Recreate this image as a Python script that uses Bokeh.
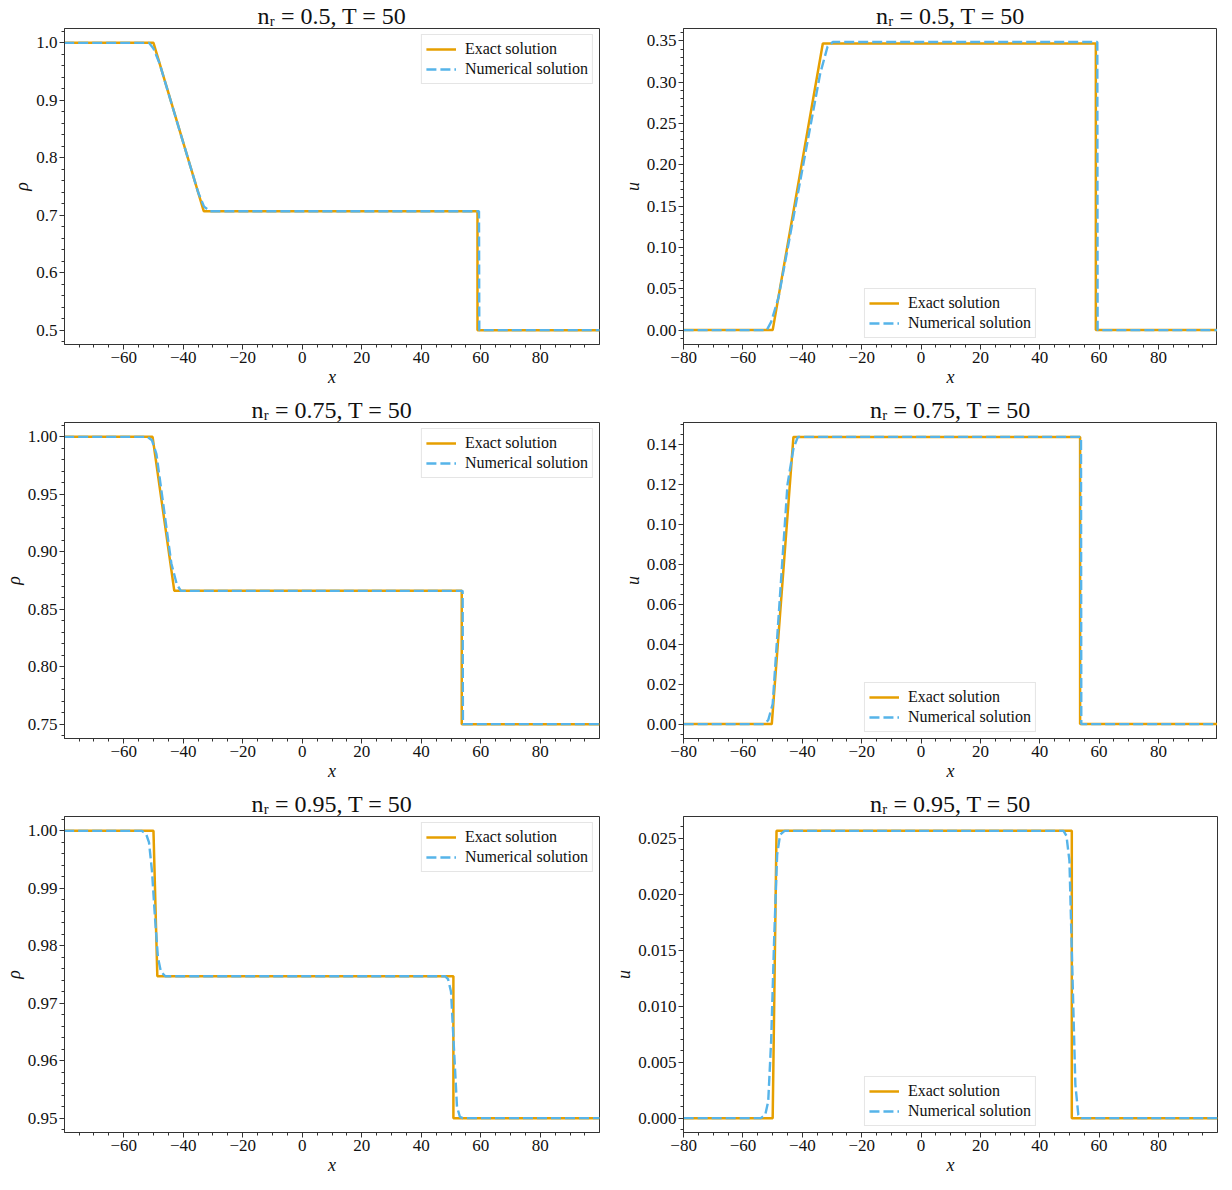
from bokeh.plotting import figure
from bokeh.layouts import gridplot
from bokeh.models import Range1d, FixedTicker, CustomJSTickFormatter
from bokeh.embed import file_html
from bokeh.resources import INLINE

ORANGE = "#E69F00"
BLUE = "#56B4E9"
FONT = "Liberation Serif"
SPINE = "#333333"

# ---------------- data ----------------
titles = ["nᵣ = 0.5, T = 50", "nᵣ = 0.75, T = 50", "nᵣ = 0.95, T = 50"]
legend_labels = ["Exact solution", "Numerical solution"]

# n_r = 0.5
exact_x_05 = [-80, -50.0, -33.1, 58.9, 58.9, 100]
exact_rho_05 = [1.0, 1.0, 0.7071, 0.7071, 0.5, 0.5]
exact_u_05 = [0.0, 0.0, 0.3466, 0.3466, 0.0, 0.0]
num_x_rho_05 = [-80, -51.5, -50.0, -48.0, -35.0, -33.0, -31.0, 59.4, 59.5, 100]
num_rho_05 = [1.0, 1.0, 0.99, 0.965, 0.74, 0.715, 0.707, 0.707, 0.5, 0.5]
num_x_u_05 = [-80, -52.0, -50.5, -48.0, -34.0, -31.5, -29.7, 59.4, 59.5, 100]
num_u_05 = [0.0, 0.0, 0.01, 0.04, 0.31, 0.343, 0.3485, 0.3485, 0.0, 0.0]

# n_r = 0.75
exact_x_075 = [-80, -50.3, -43.0, 53.6, 53.6, 100]
exact_rho_075 = [1.0, 1.0, 0.866, 0.866, 0.75, 0.75]
exact_u_075 = [0.0, 0.0, 0.1438, 0.1438, 0.0, 0.0]
num_x_rho_075 = [-80, -52.0, -50.5, -49.0, -44.0, -42.2, -40.8, 53.9, 54.0, 100]
num_rho_075 = [1.0, 1.0, 0.997, 0.985, 0.89, 0.872, 0.866, 0.866, 0.75, 0.75]
num_x_u_075 = [-80, -53.0, -51.5, -50.0, -45.0, -43.0, -41.5, 53.9, 54.0, 100]
num_u_075 = [0.0, 0.0, 0.002, 0.01, 0.12, 0.138, 0.1438, 0.1438, 0.0, 0.0]

# n_r = 0.95
exact_x_095 = [-80, -50.0, -48.7, 50.8, 50.8, 100]
exact_rho_095 = [1.0, 1.0, 0.9747, 0.9747, 0.95, 0.95]
exact_u_095 = [0.0, 0.0, 0.02565, 0.02565, 0.0, 0.0]
num_x_095 = [-80, -54.0, -52.5, -51.5, -50.5, -49.5, -48.5, -47.5, -46.0,
             48.0, 49.0, 50.0, 51.0, 52.0, 53.0, 54.0, 100]
num_rho_095 = [1.0, 1.0, 0.9995, 0.998, 0.993, 0.985, 0.978, 0.9755, 0.9747,
               0.9747, 0.9742, 0.972, 0.962, 0.952, 0.9502, 0.95, 0.95]
num_u_095 = [0.0, 0.0, 0.0003, 0.0015, 0.007, 0.016, 0.0235, 0.0253, 0.02565,
             0.02565, 0.0252, 0.023, 0.013, 0.003, 0.0003, 0.0, 0.0]

# tick labels
x_ticks = [-80, -60, -40, -20, 0, 20, 40, 60, 80]
x_minor = [v for v in range(-80, 101, 5)]
rho_ticks_05 = [0.5, 0.6, 0.7, 0.8, 0.9, 1.0]
u_ticks_05 = [0.0, 0.05, 0.10, 0.15, 0.20, 0.25, 0.30, 0.35]
rho_ticks_075 = [0.75, 0.80, 0.85, 0.90, 0.95, 1.00]
u_ticks_075 = [0.0, 0.02, 0.04, 0.06, 0.08, 0.10, 0.12, 0.14]
rho_ticks_095 = [0.95, 0.96, 0.97, 0.98, 0.99, 1.00]
u_ticks_095 = [0.0, 0.005, 0.010, 0.015, 0.020, 0.025]


def minor_list(lo, hi, step):
    n = int(round((hi - lo) / step))
    return [round(lo + i * step, 6) for i in range(n + 1)]


def fmt(dec):
    return CustomJSTickFormatter(code="""
        const s = Math.abs(tick).toFixed(%d);
        return (tick < -1e-12 ? '\\u2212' : '') + s;
    """ % dec)


def panel(title, ylab, xe, ye, xn, yn, yticks, yminor, ydec, yr, xr, loc, col, row):
    p = figure(frame_width=535 if col == 0 else 534, frame_height=316,
               x_range=Range1d(*xr), y_range=Range1d(*yr),
               output_backend="svg", toolbar_location=None,
               min_border_left=40,
               min_border_right=12 if col == 0 else 8,
               min_border_top=4, min_border_bottom=50 if row < 2 else 4)
    p.title.text = title
    p.title.align = "center"
    p.title.text_font = FONT
    p.title.text_font_size = "24px"
    p.title.text_font_style = "normal"
    p.title.text_color = "#111111"
    p.title.standoff = 0
    p.title.offset = 0
    p.xgrid.visible = False
    p.ygrid.visible = False
    p.outline_line_color = SPINE
    p.outline_line_width = 1
    p.background_fill_color = "white"
    p.border_fill_color = "white"

    p.line(xe, ye, color=ORANGE, line_width=2.5, legend_label=legend_labels[0])
    p.line(xn, yn, color=BLUE, line_width=2.4, line_dash="10 4",
           legend_label=legend_labels[1])

    p.xaxis.ticker = FixedTicker(ticks=x_ticks, minor_ticks=x_minor)
    p.yaxis.ticker = FixedTicker(ticks=yticks, minor_ticks=yminor)
    p.xaxis.formatter = fmt(0)
    p.yaxis.formatter = fmt(ydec)
    p.xaxis.axis_label = "x"
    p.yaxis.axis_label = ylab
    for ax in (p.xaxis[0], p.yaxis[0]):
        ax.axis_line_color = SPINE
        ax.major_tick_line_color = SPINE
        ax.minor_tick_line_color = SPINE
        ax.major_tick_in = 0
        ax.major_tick_out = 5
        ax.minor_tick_in = 0
        ax.minor_tick_out = 3
        ax.major_label_text_font = FONT
        ax.major_label_text_font_size = "17px"
        ax.major_label_text_color = "#111111"
        ax.major_label_standoff = 2
        ax.axis_label_text_font = FONT
        ax.axis_label_text_font_size = "18px"
        ax.axis_label_text_font_style = "italic"
        ax.axis_label_text_color = "#111111"
        ax.axis_label_standoff = 1

    lg = p.legend[0]
    lg.location = loc
    lg.label_text_font = FONT
    lg.label_text_font_size = "16px"
    lg.label_text_color = "#111111"
    lg.border_line_color = "#cccccc"
    lg.border_line_width = 1
    lg.background_fill_color = "white"
    lg.background_fill_alpha = 0.85
    lg.margin = 6
    lg.padding = 4
    lg.spacing = 0
    lg.glyph_width = 30
    lg.glyph_height = 20
    lg.label_height = 20
    lg.label_standoff = 9
    return p


xr_left = (-79.9, 99.9)
xr_right = (-80.05, 99.9)

p1 = panel(titles[0], "ρ", exact_x_05, exact_rho_05, num_x_rho_05, num_rho_05,
           rho_ticks_05, minor_list(0.46, 1.04, 0.02), 1, (0.475, 1.025), xr_left, "top_right", 0, 0)
p2 = panel(titles[0], "u", exact_x_05, exact_u_05, num_x_u_05, num_u_05,
           u_ticks_05, minor_list(-0.02, 0.37, 0.01), 2, (-0.0174, 0.3648), xr_right, "bottom_center", 1, 0)
p3 = panel(titles[1], "ρ", exact_x_075, exact_rho_075, num_x_rho_075, num_rho_075,
           rho_ticks_075, minor_list(0.73, 1.02, 0.01), 2, (0.7375, 1.0125), xr_left, "top_right", 0, 1)
p4 = panel(titles[1], "u", exact_x_075, exact_u_075, num_x_u_075, num_u_075,
           u_ticks_075, minor_list(-0.01, 0.155, 0.005), 2, (-0.0072, 0.151), xr_right, "bottom_center", 1, 1)
p5 = panel(titles[2], "ρ", exact_x_095, exact_rho_095, num_x_095, num_rho_095,
           rho_ticks_095, minor_list(0.946, 1.004, 0.002), 2, (0.9475, 1.0025), xr_left, "top_right", 0, 2)
p6 = panel(titles[2], "u", exact_x_095, exact_u_095, num_x_095, num_u_095,
           u_ticks_095, minor_list(-0.002, 0.027, 0.001), 3, (-0.00128, 0.02693), xr_right, "bottom_center", 1, 2)

grid = gridplot([[p1, p2], [p3, p4], [p5, p6]], toolbar_location=None)

open("out.html", "w").write(file_html(grid, INLINE))
